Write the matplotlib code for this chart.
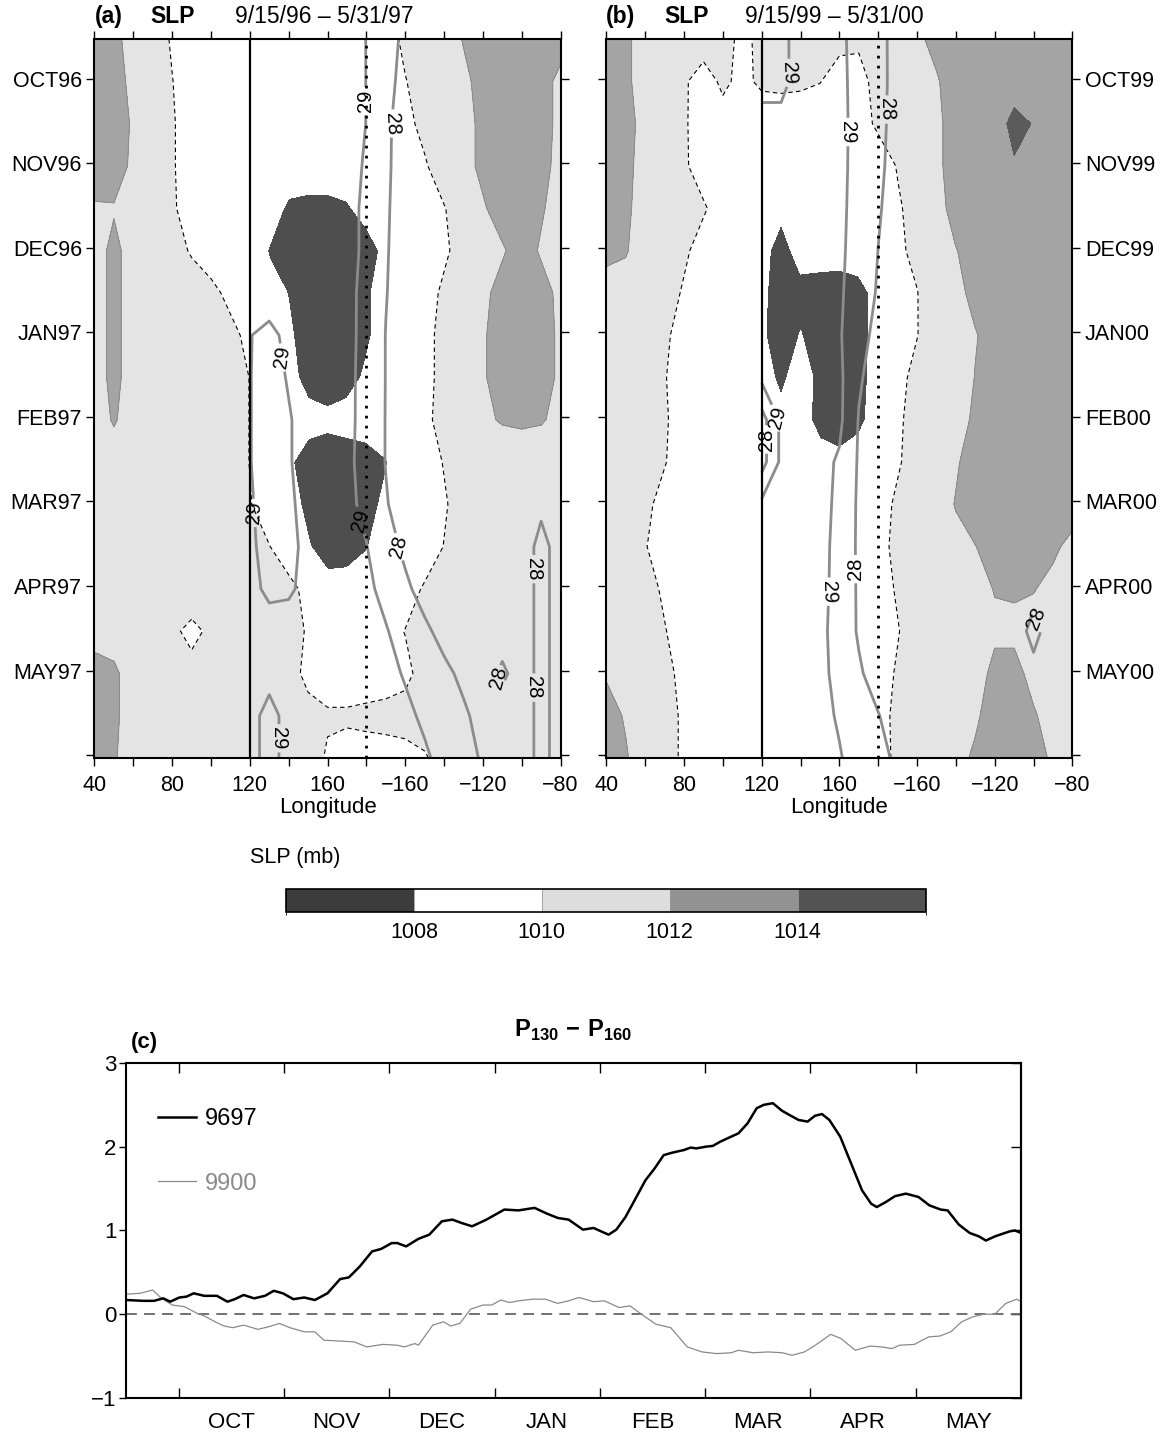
import numpy as np
import matplotlib
matplotlib.use("Agg")
import matplotlib as mpl
import matplotlib.pyplot as plt
from matplotlib.colors import ListedColormap, BoundaryNorm

plt.rcParams['font.family'] = ['Liberation Sans', 'DejaVu Sans']
plt.rcParams['mathtext.fontset'] = 'custom'
plt.rcParams['mathtext.rm'] = 'Liberation Sans'
plt.rcParams['mathtext.bf'] = 'Liberation Sans:bold'

# grid of the Hovmoller panels: longitude (deg E) and day after Sep 15
lon = np.arange(40, 281, 10)
sst_lon = np.arange(120, 281, 10)
days = np.arange(0, 256, 15)

months_a = ['OCT96', 'NOV96', 'DEC96', 'JAN97', 'FEB97', 'MAR97', 'APR97', 'MAY97']
months_b = ['OCT99', 'NOV99', 'DEC99', 'JAN00', 'FEB00', 'MAR00', 'APR00', 'MAY00']
months_c = ['OCT', 'NOV', 'DEC', 'JAN', 'FEB', 'MAR', 'APR', 'MAY']
lon_labels = ['40', '80', '120', '160', '\u2212160', '\u2212120', '\u221280']

slp_levels = [1000, 1008, 1010, 1012, 1014, 1020]
cbar_bounds = [1006, 1008, 1010, 1012, 1014, 1016]

# SLP (mb), rows = days, columns = lon 40..280
slp_a = [
    [1013, 1012.4, 1011.4, 1011, 1009.8, 1009, 1009, 1009, 1009, 1009, 1009, 1009, 1009, 1009, 1009, 1009, 1010.5, 1011, 1011, 1012.1, 1013, 1013, 1013, 1013, 1012.6],
    [1013, 1012.6, 1011.6, 1011, 1010.05, 1009, 1009, 1009, 1009, 1009, 1009, 1009, 1009, 1009, 1009, 1009, 1009.9, 1011, 1011, 1011.6, 1012.6, 1013, 1013, 1012.6, 1011.6],
    [1013, 1012.8, 1011.8, 1011, 1010.2, 1009, 1009, 1009, 1009, 1009, 1009, 1009, 1009, 1009, 1009, 1009, 1009.5, 1010.5, 1011, 1011.4, 1012.4, 1013, 1013, 1012.6, 1011.6],
    [1013, 1012.7, 1011.7, 1011, 1010.2, 1009, 1009, 1009, 1009, 1009, 1009, 1009, 1009, 1009, 1009, 1009, 1009, 1009.8, 1011, 1011.4, 1012.4, 1013, 1013, 1012.5, 1011.5],
    [1011.8, 1011.9, 1011.5, 1011, 1010.3, 1009, 1009, 1009, 1009, 1008.8, 1007.7, 1007.5, 1007.5, 1007.8, 1008.6, 1009, 1009, 1009, 1009.9, 1011, 1011.8, 1012.8, 1013, 1012.2, 1011.2],
    [1011.5, 1012.3, 1011.5, 1011, 1010.8, 1009.8, 1009, 1009, 1009, 1007.9, 1007.3, 1007.3, 1007.3, 1007.3, 1007.3, 1008.4, 1009, 1009, 1009.7, 1010.7, 1011.3, 1011.8, 1012.8, 1011.8, 1011],
    [1011.5, 1012.3, 1011.5, 1011, 1011, 1011, 1010.5, 1009.5, 1009, 1008.5, 1007.95, 1007.3, 1007.3, 1007.3, 1007.8, 1008.6, 1009, 1009.3, 1010.3, 1011, 1011.6, 1012.6, 1013, 1012.6, 1011.6],
    [1011.5, 1012.3, 1011.5, 1011, 1011, 1011, 1011, 1010.5, 1009.5, 1008.6, 1008.2, 1007.4, 1007.3, 1007.3, 1007.8, 1008.6, 1009, 1009.5, 1010.5, 1011, 1011.8, 1012.8, 1013, 1012.7, 1011.7],
    [1011.5, 1012.3, 1011.5, 1011, 1011, 1011, 1011, 1011, 1009.95, 1009, 1008.5, 1007.5, 1007.3, 1007.5, 1008.2, 1008.8, 1009, 1009.5, 1010.5, 1011, 1011.8, 1012.8, 1013, 1012.7, 1011.7],
    [1011.5, 1012.1, 1011.5, 1011, 1011, 1011, 1011, 1011, 1009.95, 1009, 1008.8, 1008.5, 1008.3, 1008.5, 1008.8, 1009, 1009, 1009.6, 1010.6, 1011, 1011.8, 1012.1, 1012.2, 1012.1, 1011.7],
    [1011.5, 1011.5, 1011.5, 1011, 1011, 1011, 1011, 1011, 1009.95, 1009, 1008.2, 1007.4, 1007.3, 1007.3, 1007.3, 1007.9, 1009, 1009.1, 1010.1, 1011.3, 1011.3, 1011.3, 1011.3, 1011.3, 1011.3],
    [1011.5, 1011.5, 1011.5, 1011, 1011, 1011, 1011, 1011, 1010.1, 1009.1, 1008.5, 1007.7, 1007.3, 1007.3, 1007.5, 1008.3, 1009, 1009, 1009.8, 1010.8, 1011.3, 1011.3, 1011.3, 1011.3, 1011.3],
    [1011.5, 1011.5, 1011.5, 1011, 1011, 1011, 1011, 1011, 1010.8, 1010.05, 1009, 1008.1, 1007.4, 1007.4, 1007.9, 1008.8, 1009, 1009, 1010.05, 1011, 1011.3, 1011.3, 1011.3, 1011.3, 1011.3],
    [1011.5, 1011.5, 1011.5, 1011, 1011, 1011, 1011, 1011, 1011, 1010.8, 1010.5, 1009.5, 1008.5, 1008.6, 1008.8, 1009, 1009.2, 1010.2, 1011, 1011.2, 1011.3, 1011.3, 1011.3, 1011.3, 1011.3],
    [1011.5, 1011.5, 1011.3, 1011, 1010.3, 1009.6, 1010.3, 1011, 1011, 1011, 1010.8, 1009.8, 1009, 1009, 1009, 1009.5, 1010.05, 1011, 1011.2, 1011.3, 1011.3, 1011.3, 1011.3, 1011.3, 1011.3],
    [1012.5, 1012.2, 1011.5, 1011, 1010.8, 1010.5, 1010.8, 1011, 1011, 1011, 1010.6, 1009.6, 1009.2, 1009.2, 1009.3, 1009.4, 1009.6, 1010.6, 1011, 1011.3, 1011.3, 1011.3, 1011.3, 1011.3, 1011.3],
    [1012.5, 1012.2, 1011.5, 1011, 1011, 1011, 1011, 1011, 1011, 1011, 1010.8, 1010.5, 1010.2, 1010.2, 1010.3, 1010.4, 1010.6, 1011, 1011, 1011.3, 1011.3, 1011.3, 1011.3, 1011.3, 1011.3],
    [1012.5, 1012.1, 1011.5, 1011, 1011, 1011, 1011, 1011, 1011, 1011, 1011, 1010.8, 1009.8, 1009.5, 1009.5, 1009.5, 1009.5, 1009.8, 1010.8, 1011.3, 1011.3, 1011.3, 1011.3, 1011.3, 1011.3],
]

slp_b = [
    [1013, 1012.3, 1011.3, 1011, 1011, 1010.8, 1010.6, 1009.6, 1010.4, 1010.5, 1010.5, 1010.5, 1010.4, 1010.3, 1010.5, 1011, 1011.8, 1012.3, 1013, 1013, 1013, 1013, 1013, 1013, 1013],
    [1013, 1012.3, 1011.3, 1011, 1010.2, 1009.3, 1010.3, 1009.6, 1010.3, 1010.4, 1010.3, 1010.05, 1009.4, 1009.4, 1010.6, 1011, 1011.4, 1011.9, 1012.5, 1013, 1013, 1013, 1013, 1013, 1013],
    [1013, 1012.5, 1011.5, 1011, 1010.2, 1009.2, 1009.4, 1009, 1009, 1009, 1009, 1009, 1009, 1009.3, 1010.3, 1011, 1011.3, 1011.8, 1012.4, 1013, 1013, 1014.6, 1013.9, 1013, 1013],
    [1013, 1012.4, 1011.4, 1011, 1010.25, 1009.2, 1009.2, 1009, 1009, 1009, 1009, 1009, 1009, 1009, 1009.1, 1010.1, 1011, 1011.8, 1012.4, 1013, 1013, 1013.8, 1013, 1013, 1013],
    [1013, 1012.3, 1011.3, 1011, 1010.8, 1010.2, 1009.2, 1009, 1009, 1008.3, 1009, 1009, 1009, 1009, 1009, 1009.8, 1010.6, 1011.5, 1012.5, 1013, 1013, 1013, 1013, 1013, 1013],
    [1012.3, 1012.1, 1011.3, 1011, 1010.3, 1009.3, 1009, 1009, 1008.4, 1007.5, 1008.5, 1008.6, 1008.6, 1008.6, 1009, 1009.7, 1010.4, 1011.2, 1011.95, 1012.5, 1013, 1013, 1013, 1013, 1013],
    [1011.5, 1011.5, 1011.3, 1010.8, 1009.8, 1009, 1009, 1009, 1008.3, 1007.3, 1007.6, 1007.4, 1007.3, 1007.6, 1008.4, 1009, 1009.95, 1011, 1011.5, 1012.5, 1013, 1013, 1013, 1013, 1013],
    [1011.5, 1011.5, 1011.2, 1010.3, 1009.3, 1009, 1009, 1009, 1008.2, 1007.3, 1008.05, 1007.4, 1007.3, 1007.5, 1008.5, 1009, 1009.95, 1010.9, 1011.2, 1011.9, 1012.6, 1013, 1013, 1013, 1013],
    [1011.5, 1011.5, 1011.2, 1010.1, 1009.1, 1009, 1009, 1009, 1008.6, 1007.7, 1008.7, 1007.6, 1007.3, 1007.6, 1008.5, 1009.5, 1010.5, 1011, 1011.1, 1012.05, 1013, 1013, 1013, 1013, 1013],
    [1011.5, 1011.5, 1011.2, 1010.2, 1009.2, 1009, 1009, 1009, 1009, 1008.4, 1008.5, 1007.6, 1007.4, 1007.7, 1008.6, 1009.7, 1010.7, 1011, 1011.3, 1012.3, 1013, 1013, 1013, 1013, 1013],
    [1011.5, 1011.5, 1011.2, 1010.1, 1009.1, 1009, 1009, 1009, 1009, 1009, 1009, 1008.5, 1008.3, 1008.6, 1009, 1009.8, 1010.8, 1011.2, 1011.8, 1012.8, 1013, 1013, 1013, 1013, 1013],
    [1011.5, 1011.3, 1010.4, 1009.4, 1009, 1009, 1009, 1009, 1009, 1009, 1009, 1009, 1009, 1009, 1009.3, 1010.3, 1011, 1011.1, 1012.1, 1013, 1013, 1013, 1013, 1013, 1012.5],
    [1011.5, 1011.3, 1010.1, 1009.1, 1009, 1009, 1009, 1009, 1009, 1009, 1009, 1009, 1009, 1009, 1009.5, 1010.4, 1011, 1011.3, 1011.5, 1011.95, 1012.8, 1013, 1012.8, 1012.2, 1011.7],
    [1011.5, 1011.3, 1010.7, 1009.7, 1009, 1009, 1009, 1009, 1009, 1009, 1009, 1009, 1009, 1009, 1009.2, 1010.2, 1011, 1011.3, 1011.5, 1011.6, 1012.05, 1012.1, 1012.05, 1011.7, 1011.5],
    [1011.5, 1011.3, 1011, 1010.1, 1009.1, 1009, 1009, 1009, 1009, 1009, 1009, 1009, 1009, 1009, 1009, 1009.9, 1010.9, 1011.2, 1011.4, 1011.5, 1011.8, 1011.8, 1011.6, 1011.5, 1011.5],
    [1011.9, 1011.5, 1011, 1010.5, 1009.5, 1009, 1009, 1009, 1009, 1009, 1009, 1009, 1009, 1009, 1009.2, 1010.2, 1011, 1011.2, 1011.4, 1011.5, 1012.3, 1012.3, 1011.7, 1011.5, 1011.5],
    [1012.4, 1011.9, 1011.3, 1010.7, 1009.7, 1009, 1009, 1009, 1009, 1009, 1009, 1009, 1009, 1009, 1009.4, 1010.4, 1011, 1011.2, 1011.4, 1011.8, 1012.6, 1012.6, 1012.1, 1011.6, 1011.5],
    [1012.5, 1012.1, 1011.4, 1010.7, 1009.7, 1009, 1009, 1009, 1009, 1009, 1009, 1009, 1009, 1009, 1009.35, 1010.35, 1011, 1011.2, 1011.6, 1012.2, 1012.8, 1012.8, 1012.5, 1011.8, 1011.5],
]

# SST (deg C), rows = days, columns = lon 120..280
sst_a = [
    [29.3, 29.3, 29.3, 29.3, 29.3, 29.3, 28.99, 28.38, 27.8, 27.5, 27.5, 27.5, 27.5, 27.5, 27.5, 27.5, 27.5],
    [29.3, 29.3, 29.3, 29.3, 29.3, 29.3, 28.99, 28.29, 27.7, 27.5, 27.5, 27.5, 27.5, 27.5, 27.5, 27.5, 27.5],
    [29.3, 29.3, 29.3, 29.3, 29.3, 29.3, 28.99, 28.17, 27.6, 27.5, 27.5, 27.5, 27.5, 27.5, 27.5, 27.5, 27.5],
    [29.3, 29.3, 29.3, 29.3, 29.3, 29.27, 28.92, 28.15, 27.6, 27.5, 27.5, 27.5, 27.5, 27.5, 27.5, 27.5, 27.5],
    [29.3, 29.3, 29.3, 29.3, 29.3, 29.24, 28.85, 28.11, 27.58, 27.5, 27.5, 27.5, 27.5, 27.5, 27.5, 27.5, 27.5],
    [29.3, 29.3, 29.3, 29.3, 29.3, 29.24, 28.85, 28.08, 27.55, 27.5, 27.5, 27.5, 27.5, 27.5, 27.5, 27.5, 27.5],
    [29.3, 29.3, 29.3, 29.3, 29.3, 29.21, 28.78, 28.04, 27.53, 27.5, 27.5, 27.5, 27.5, 27.5, 27.5, 27.5, 27.5],
    [29.02, 28.85, 29.15, 29.3, 29.3, 29.21, 28.77, 27.98, 27.5, 27.5, 27.5, 27.5, 27.5, 27.5, 27.5, 27.5, 27.5],
    [29.02, 28.75, 29.05, 29.3, 29.3, 29.2, 28.74, 27.98, 27.5, 27.5, 27.5, 27.5, 27.5, 27.5, 27.5, 27.5, 27.5],
    [29.02, 28.75, 28.95, 29.25, 29.3, 29.2, 28.73, 27.97, 27.5, 27.5, 27.5, 27.5, 27.5, 27.5, 27.5, 27.5, 27.5],
    [29.02, 28.75, 28.95, 29.25, 29.3, 29.18, 28.7, 27.97, 27.5, 27.5, 27.5, 27.5, 27.5, 27.5, 27.5, 27.5, 27.5],
    [29.05, 28.8, 28.9, 29.2, 29.3, 29.21, 28.79, 28.07, 27.55, 27.5, 27.5, 27.5, 27.5, 27.5, 27.5, 27.8, 27.5],
    [29.1, 28.8, 28.85, 29.15, 29.3, 29.3, 29.03, 28.4, 27.8, 27.5, 27.5, 27.5, 27.5, 27.5, 27.5, 28.3, 27.6],
    [29.2, 28.85, 28.9, 29.2, 29.3, 29.3, 29.18, 28.76, 28.18, 27.65, 27.5, 27.5, 27.5, 27.5, 27.5, 28.3, 27.6],
    [29.3, 29.3, 29.3, 29.3, 29.3, 29.3, 29.3, 29.06, 28.64, 28.18, 27.7, 27.5, 27.5, 27.5, 27.5, 28.3, 27.6],
    [29.3, 29.2, 29.3, 29.3, 29.3, 29.3, 29.3, 29.24, 28.93, 28.57, 28.21, 27.8, 27.5, 28.2, 27.5, 28.3, 27.6],
    [29.2, 28.8, 29.2, 29.3, 29.3, 29.3, 29.3, 29.3, 29.18, 28.86, 28.5, 28.14, 27.7, 27.5, 27.5, 28.3, 27.6],
    [29.2, 28.8, 29.2, 29.3, 29.3, 29.3, 29.3, 29.3, 29.3, 29.12, 28.75, 28.33, 27.9, 27.6, 27.5, 28.3, 27.6],
]

sst_b = [
    [28.8, 28.8, 29.3, 29.3, 29.15, 28.74, 28.23, 27.73, 27.5, 27.5, 27.5, 27.5, 27.5, 27.5, 27.5, 27.5, 27.5],
    [28.8, 28.8, 29.3, 29.3, 29.17, 28.76, 28.24, 27.73, 27.5, 27.5, 27.5, 27.5, 27.5, 27.5, 27.5, 27.5, 27.5],
    [29.2, 29.2, 29.3, 29.3, 29.18, 28.78, 28.22, 27.7, 27.5, 27.5, 27.5, 27.5, 27.5, 27.5, 27.5, 27.5, 27.5],
    [29.3, 29.3, 29.3, 29.3, 29.18, 28.76, 28.18, 27.65, 27.5, 27.5, 27.5, 27.5, 27.5, 27.5, 27.5, 27.5, 27.5],
    [29.3, 29.3, 29.3, 29.3, 29.17, 28.72, 28.09, 27.58, 27.5, 27.5, 27.5, 27.5, 27.5, 27.5, 27.5, 27.5, 27.5],
    [29.3, 29.3, 29.3, 29.3, 29.15, 28.67, 27.99, 27.5, 27.5, 27.5, 27.5, 27.5, 27.5, 27.5, 27.5, 27.5, 27.5],
    [29.3, 29.3, 29.3, 29.3, 29.12, 28.57, 27.9, 27.5, 27.5, 27.5, 27.5, 27.5, 27.5, 27.5, 27.5, 27.5, 27.5],
    [29.3, 29.3, 29.3, 29.3, 29.09, 28.36, 27.7, 27.5, 27.5, 27.5, 27.5, 27.5, 27.5, 27.5, 27.5, 27.5, 27.5],
    [29.2, 29.3, 29.3, 29.3, 29.2, 28.12, 27.55, 27.5, 27.5, 27.5, 27.5, 27.5, 27.5, 27.5, 27.5, 27.5, 27.5],
    [27.6, 29.2, 29.3, 29.3, 29.2, 27.95, 27.5, 27.5, 27.5, 27.5, 27.5, 27.5, 27.5, 27.5, 27.5, 27.5, 27.5],
    [27.6, 29.2, 29.3, 29.27, 28.89, 27.9, 27.5, 27.5, 27.5, 27.5, 27.5, 27.5, 27.5, 27.5, 27.5, 27.5, 27.5],
    [29.2, 29.3, 29.3, 29.3, 28.8, 27.85, 27.5, 27.5, 27.5, 27.5, 27.5, 27.5, 27.5, 27.5, 27.5, 27.5, 27.5],
    [29.3, 29.3, 29.3, 29.3, 28.7, 27.85, 27.5, 27.5, 27.5, 27.5, 27.5, 27.5, 27.5, 27.5, 27.5, 27.5, 27.5],
    [29.3, 29.3, 29.3, 29.3, 28.65, 27.88, 27.5, 27.5, 27.5, 27.5, 27.5, 27.5, 27.5, 27.5, 27.7, 27.5, 27.5],
    [29.3, 29.3, 29.3, 29.25, 28.6, 27.9, 27.5, 27.5, 27.5, 27.5, 27.5, 27.5, 27.5, 27.5, 28.3, 27.5, 27.5],
    [29.3, 29.3, 29.3, 29.25, 28.71, 28.12, 27.6, 27.5, 27.5, 27.5, 27.5, 27.5, 27.5, 27.5, 27.7, 27.5, 27.5],
    [29.3, 29.3, 29.3, 29.24, 28.91, 28.48, 28.04, 27.55, 27.5, 27.5, 27.5, 27.5, 27.5, 27.5, 27.5, 27.5, 27.5],
    [29.3, 29.3, 29.3, 29.3, 29.06, 28.67, 28.27, 27.83, 27.5, 27.5, 27.5, 27.5, 27.5, 27.5, 27.5, 27.5, 27.5],
]

# where the isotherm labels sit (lon, day)
labels_a = [(180, 22), (194, 30), (136, 113), (124, 168), (181, 170), (197, 180),
            (268, 188), (266, 230), (250, 226), (133, 248)]
labels_b = [(134, 12), (166, 33), (185, 25), (122, 142), (129, 134),
            (155, 196), (168, 188), (260, 206)]

# (c) P130 - P160 (mb)
days_9697 = [0, 5, 8, 10.6, 12.6, 15.2, 17.2, 19.3, 22.3, 25.9, 28.9, 31, 33.5, 36.5, 39.6,
             42.1, 44.7, 47.7, 50.8, 53.8, 57.4, 61, 63.5, 66.6, 70.1, 72.7, 75.7, 77.3, 79.8,
             83.3, 86.4, 90, 93, 95.6, 98.6, 102.7, 107.8, 111.8, 116.4, 120, 123, 126.1, 130.2,
             133.2, 137.5, 139.7, 142.3, 144.9, 148, 150.6, 153.2, 155.7, 158.9, 160.9, 162.5,
             165.1, 167.2, 169.3, 172.4, 174.5, 177.1, 179.7, 181.7, 184.3, 186.9, 189, 191.6,
             194.2, 196.3, 198.3, 200.4, 203.5, 206.6, 209.7, 212.3, 213.9, 216.5, 219.1, 222.2,
             225.8, 228.9, 232.1, 234.1, 237.3, 240.4, 243, 245, 247.6, 251.8, 253.3, 255]
p_9697 = [0.17, 0.16, 0.16, 0.19, 0.15, 0.20, 0.21, 0.25, 0.22, 0.22, 0.15, 0.18, 0.23, 0.19, 0.22,
          0.28, 0.25, 0.18, 0.20, 0.17, 0.25, 0.42, 0.44, 0.57, 0.75, 0.78, 0.85, 0.85, 0.81,
          0.90, 0.95, 1.11, 1.13, 1.09, 1.05, 1.13, 1.25, 1.24, 1.27, 1.20, 1.15, 1.13, 1.01,
          1.03, 0.95, 1.01, 1.16, 1.36, 1.60, 1.74, 1.90, 1.93, 1.96, 1.99, 1.98,
          2.00, 2.01, 2.06, 2.12, 2.16, 2.28, 2.46, 2.50, 2.52, 2.43, 2.38, 2.32,
          2.30, 2.37, 2.39, 2.32, 2.12, 1.80, 1.48, 1.32, 1.28, 1.34, 1.41, 1.44,
          1.40, 1.30, 1.25, 1.24, 1.07, 0.97, 0.93, 0.88, 0.93, 0.99, 1.00, 0.97]
days_9900 = [0, 4, 7.6, 10.1, 13.2, 16.7, 20.3, 22.3, 25.4, 27.9, 30.4, 33.5, 37.6, 40.6, 43.7,
             46.7, 50.8, 53.8, 56.4, 61, 65, 68.6, 73.2, 77.3, 79.3, 82.3, 83.3, 87.4, 90.5, 92.5,
             95.1, 98.2, 101.7, 104.2, 106.8, 109.3, 111.8, 115.9, 119.5, 123, 126.1, 129.1, 133.2,
             136.3, 140.5, 143.6, 147.2, 151, 155.2, 159.9, 164.1, 168.3, 172.4, 174.5, 178.7,
             182.9, 187, 189.7, 193.3, 196.4, 200.8, 203.7, 207.8, 212, 215.2, 218.3, 220.4,
             224.6, 228.7, 231.9, 235, 238.1, 241.3, 244.4, 247.5, 250.7, 253.8, 255]
p_9900 = [0.24, 0.25, 0.29, 0.19, 0.11, 0.09, 0.01, -0.02, -0.09, -0.14, -0.16, -0.13, -0.18, -0.15, -0.11,
          -0.16, -0.21, -0.21, -0.31, -0.32, -0.33, -0.39, -0.36, -0.37, -0.39, -0.35, -0.37, -0.13, -0.09, -0.14,
          -0.11, 0.06, 0.11, 0.11, 0.17, 0.14, 0.16, 0.18, 0.18, 0.13, 0.16, 0.20, 0.15,
          0.16, 0.08, 0.10, -0.01, -0.12, -0.16, -0.39, -0.45, -0.47, -0.46, -0.43, -0.46,
          -0.45, -0.46, -0.49, -0.45, -0.37, -0.24, -0.29, -0.43, -0.38, -0.39, -0.41, -0.37,
          -0.36, -0.27, -0.26, -0.21, -0.09, -0.03, 0.00, 0.00, 0.13, 0.18, 0.15]

map_colors = ['#4e4e4e', '#ffffff', '#e4e4e4', '#a4a4a4', '#5b5b5b']
cbar_colors = ['#3c3c3c', '#ffffff', '#dddddd', '#929292', '#535353']
sst_color = '#8c8c8c'

fig = plt.figure(figsize=(11.71, 14.36), dpi=100)


def draw_map(ax, slp, sst, months, label_pos, right_labels):
    ax.contourf(lon, days, slp, levels=slp_levels, colors=map_colors)
    ax.contour(lon, days, slp, levels=[1010], colors='white', linewidths=0.8)
    ax.contour(lon, days, slp, levels=[1010], colors='black', linewidths=0.8,
               linestyles=[(0, (4, 3))])
    ax.contour(lon, days, slp, levels=[1012], colors='#8a8a8a', linewidths=0.7)
    cs = ax.contour(sst_lon, days, sst, levels=[28, 29], colors=sst_color, linewidths=2.0)
    ax.clabel(cs, fmt='%d', fontsize=14.5, colors='black', inline=True,
              inline_spacing=3, manual=label_pos)
    ax.axvline(120, color='black', lw=1.6)
    ax.axvline(180, color='black', lw=2.0, ls=(0, (1, 2.6)))

    ax.set_xlim(40, 280)
    ax.set_ylim(255, 0)
    ax.set_xticks(np.arange(40, 281, 40))
    ax.set_xticklabels(lon_labels)
    ax.set_xticks(np.arange(60, 280, 40), minor=True)
    ax.set_yticks(np.arange(14, 255, 30))
    ax.set_yticklabels(months + [''])
    ax.tick_params(which='both', direction='out', length=6, width=1.0,
                   top=True, right=True, labelsize=15.5)
    ax.tick_params(axis='x', pad=6)
    ax.tick_params(axis='y', pad=3)
    if right_labels:
        ax.tick_params(axis='y', labelleft=False, labelright=True)
    ax.set_xlabel('Longitude', fontsize=16, labelpad=1)
    for s in ax.spines.values():
        s.set_linewidth(1.5)


ax_a = fig.add_axes([0.0807, 0.4721, 0.398, 0.5007])
ax_b = fig.add_axes([0.5178, 0.4721, 0.398, 0.5007])
draw_map(ax_a, slp_a, sst_a, months_a, labels_a, False)
draw_map(ax_b, slp_b, sst_b, months_b, labels_b, True)

for ax, letter, dates, xs in [(ax_a, '(a)', '9/15/96 \u2013 5/31/97', (0.0, 0.119, 0.302)),
                              (ax_b, '(b)', '9/15/99 \u2013 5/31/00', (0.0, 0.124, 0.297))]:
    ax.text(xs[0], 1.016, letter, transform=ax.transAxes, fontsize=16.5,
            fontweight='bold', va='bottom')
    ax.text(xs[1], 1.016, 'SLP', transform=ax.transAxes, fontsize=16.5,
            fontweight='bold', va='bottom')
    ax.text(xs[2], 1.016, dates, transform=ax.transAxes, fontsize=16.5, va='bottom')

# colour bar
cax = fig.add_axes([0.2442, 0.3649, 0.5462, 0.016])
cnorm = BoundaryNorm(cbar_bounds, 5)
cb = fig.colorbar(mpl.cm.ScalarMappable(norm=cnorm, cmap=ListedColormap(cbar_colors)),
                  cax=cax, orientation='horizontal', ticks=[1008, 1010, 1012, 1014],
                  drawedges=True)
cb.dividers.set_color('#9a9a9a')
cb.dividers.set_linewidth(0.6)
cb.outline.set_linewidth(1.2)
cb.ax.tick_params(length=0, labelsize=15.5, pad=7)
fig.text(250 / 1171, 1 - 858 / 1436, 'SLP (mb)', fontsize=15.5, va='center', ha='left')

# panel (c)
axc = fig.add_axes([0.1076, 0.02646, 0.7643, 0.2333])
axc.axhline(0, color='#666666', lw=1.3, ls=(0, (6, 4)), zorder=1)
axc.plot(days_9697, p_9697, color='black', lw=1.8, label='9697', zorder=3)
axc.plot(days_9900, p_9900, color='#8a8a8a', lw=0.9, label='9900', zorder=2)
axc.set_xlim(0, 255)
axc.set_ylim(-1, 3)
axc.set_xticks(np.arange(15, 226, 30))
axc.set_xticklabels([])
axc.set_xticks(np.arange(30, 241, 30), minor=True)
axc.set_xticklabels(months_c, minor=True)
axc.tick_params(axis='x', which='major', direction='in', length=7, width=1.0, top=True)
axc.tick_params(axis='x', which='minor', length=0, labelsize=16, pad=10)
axc.set_yticks([-1, 0, 1, 2, 3])
axc.set_yticklabels(['\u22121', '0', '1', '2', '3'])
axc.tick_params(axis='y', direction='out', length=5, width=1.0, labelsize=16, pad=2)
sec = axc.secondary_yaxis('right')
sec.set_yticks([-1, 0, 1, 2, 3])
sec.tick_params(direction='in', length=7, width=1.0, labelright=False)
sec.spines['right'].set_linewidth(1.5)
for s in axc.spines.values():
    s.set_linewidth(1.5)
axc.legend(loc='upper left', bbox_to_anchor=(0.0358, 0.865), frameon=False, fontsize=17,
           handlelength=1.6, handletextpad=0.4, labelspacing=1.8, borderaxespad=0,
           borderpad=0, labelcolor='linecolor')
axc.text(0.005, 1.045, '(c)', transform=axc.transAxes, fontsize=16, fontweight='bold',
         va='baseline')
axc.text(0.5, 1.078, r'$\mathbf{P}_{\mathbf{130}}\ \mathbf{-}\ \mathbf{P}_{\mathbf{160}}$',
         transform=axc.transAxes, fontsize=17, ha='center', va='baseline')

fig.savefig('out.png', dpi=100, facecolor='white')
